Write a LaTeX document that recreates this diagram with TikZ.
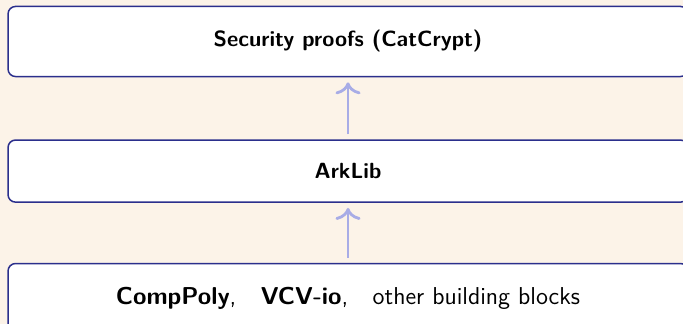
\documentclass[tikz,border=0pt]{standalone}
\usepackage{xcolor}
\usepackage{tikz}
\usetikzlibrary{positioning,arrows.meta}

\definecolor{pagebg}{RGB}{252,243,232}
\definecolor{boxline}{RGB}{43,47,140}
\definecolor{arrowcol}{RGB}{168,172,230}

\tikzset{
  layer/.style={draw=boxline, line width=0.8pt, fill=white, rounded corners=4pt,
    minimum width=12.72cm, inner ysep=12.4pt, font=\fontsize{11.7pt}{14pt}\sffamily},
  uparrow/.style={-{To[scale=1.3]}, draw=arrowcol, line width=1.5pt, shorten >=2.7pt, shorten <=2.7pt}
}

\begin{document}
\begin{tikzpicture}[x=0.0187cm, y=-0.0187cm]
\clip (0,0) rectangle (683,324);
\fill[pagebg] (0,0) rectangle (683,324);
\node[layer, inner ysep=12.8pt] (proofs) at (348,41.5) {\textbf{Security proofs (CatCrypt)}};
\node[layer, below=1.16cm of proofs] (arklib) {\textbf{ArkLib}};
\node[layer, below=1.12cm of arklib, font=\fontsize{13pt}{16pt}\sffamily] (blocks)
  {\textbf{CompPoly},\quad \textbf{VCV-io},\quad other building blocks};
\draw[uparrow] (blocks) -- (arklib);
\draw[uparrow] (arklib) -- (proofs);
\end{tikzpicture}
\end{document}
